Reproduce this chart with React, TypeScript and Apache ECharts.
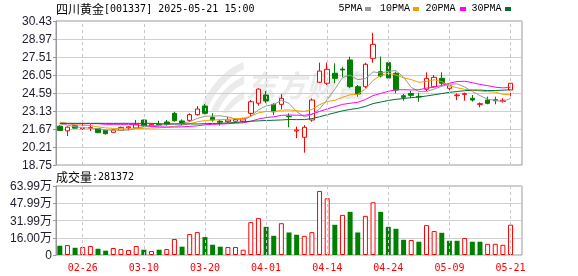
import React, { useEffect, useRef } from 'react';
import * as echarts from 'echarts';

const dates = ['02-21','02-24','02-25','02-26','02-27','02-28','03-03','03-04','03-05','03-06','03-07','03-10','03-11','03-12','03-13','03-14','03-17','03-18','03-19','03-20','03-21','03-24','03-25','03-26','03-27','03-28','03-31','04-01','04-02','04-03','04-07','04-08','04-09','04-10','04-11','04-14','04-15','04-16','04-17','04-18','04-21','04-22','04-23','04-24','04-25','04-28','04-29','04-30','05-06','05-07','05-08','05-09','05-12','05-13','05-14','05-15','05-16','05-19','05-20','05-21'];
const opens = [21.90,21.52,21.94,21.70,21.74,21.70,21.56,21.40,21.57,21.76,21.75,22.40,21.91,22.05,22.24,22.94,22.32,22.37,22.83,23.53,22.62,22.30,22.26,22.30,22.30,22.94,23.76,24.43,23.67,23.67,22.70,21.51,21.00,22.40,25.46,25.38,26.19,26.53,27.27,25.10,25.10,27.40,26.32,27.05,26.19,24.37,24.56,24.32,24.89,25.10,25.78,24.97,24.37,24.48,24.16,23.67,24.02,24.05,23.90,24.83];
const closes = [21.55,21.82,21.74,21.77,21.80,21.37,21.29,21.59,21.80,21.84,22.05,21.91,22.05,22.00,22.06,22.34,22.12,22.83,23.29,22.94,22.40,22.22,22.40,22.44,22.50,23.88,24.91,23.94,23.07,24.16,22.66,21.59,21.81,24.02,26.37,26.51,25.78,26.46,25.10,24.51,26.92,28.54,25.97,25.80,24.83,24.24,24.40,24.27,25.78,25.86,25.38,25.18,24.43,24.54,24.02,23.72,23.75,23.96,24.00,25.38];
const highs = [21.98,21.88,22.00,22.34,22.05,21.72,21.58,21.62,21.86,21.89,22.40,22.42,22.13,22.34,22.40,23.07,22.45,22.94,23.53,23.70,22.94,22.42,22.64,22.50,22.58,24.02,24.97,24.75,23.75,24.51,22.94,21.86,21.99,24.16,27.05,27.05,27.00,26.72,27.54,25.24,27.05,29.48,27.54,27.10,26.32,24.51,24.75,24.61,26.27,26.05,26.27,25.30,24.56,24.62,24.43,23.83,24.29,24.29,24.16,25.38];
const lows = [21.50,21.10,21.70,21.59,21.51,21.35,21.21,21.36,21.55,21.56,21.70,21.88,21.86,21.91,21.94,22.26,21.99,22.26,22.75,22.86,22.26,21.95,22.16,22.20,22.20,22.67,23.56,23.76,22.81,23.27,21.81,20.92,19.75,22.26,25.38,25.24,25.38,25.86,24.97,24.29,24.97,27.05,25.86,25.64,24.57,23.97,24.16,23.88,24.70,25.05,25.24,24.57,24.02,23.97,23.89,23.43,23.67,23.67,23.80,24.29];
// volume in 万 (10k shares)
const volumes = [8.6,9.2,6.7,7.4,8.3,5.8,4.0,6.5,5.5,4.6,8.3,4.9,3.7,4.9,5.5,14.8,7.7,19.4,21.2,16.6,9.5,7.7,7.4,7.4,4.9,30.5,34.2,26.1,17.8,29.5,20.9,18.8,17.8,21.2,59.4,52.6,28.0,37.2,40.0,20.9,36.3,48.9,40.0,26.1,24.3,14.1,13.9,12.3,27.7,22.2,20.6,13.2,13.2,15.7,12.3,12.3,10.4,10.4,9.5,28.14];
const ma5Head = [22.10,21.98,21.85,21.78];
const ma10Head = [22.24,22.12,22.00,21.97,21.95,21.84,21.76,21.72,21.70];
const ma20Head = [22.10,22.10,22.10,22.10,22.10,22.10,22.05,22.05,22.05,22.05,22.00,21.95,21.90,21.84,21.83,21.83,21.84,21.88,21.93];
const ma30Head = [22.13,22.13,22.13,22.13,22.13,22.13,22.13,22.13,22.13,22.13,22.13,22.13,22.13,22.10,22.08,22.08,22.08,22.08,22.08,22.10,22.12,22.13,22.16,22.20,22.25,22.30,22.33,22.36,22.38];
const priceTicks = ['18.75','20.21','21.67','23.13','24.59','26.05','27.51','28.97','30.43'];
const volumeTicks = ['0','16.00万','31.99万','47.99万','63.99万'];
const labelDates = ['02-26','03-10','03-20','04-01','04-14','04-24','05-09','05-21'];
const legendNames = ['5PMA','10PMA','20PMA','30PMA'];
const maColors = ['#999999','#f0a000','#ff00ff','#006e33'];
const titleName = '四川黄金';
const titleRest = '[001337] 2025-05-21 15:00';
const lastVolume = '281372';

function movingAverage(n: number, head: number[]) {
  return closes.map((_, i) => {
    if (i < n - 1) return head[i];
    let s = 0;
    for (let k = i - n + 1; k <= i; k++) s += closes[k];
    return +(s / n).toFixed(3);
  });
}

const logoD = 'M4 50 C10 32 26 12 46 4 L47 11 C30 19 17 35 11 50 Z M14 53 C20 38 32 25 47 18 L47 26 C35 31 26 42 21 53 Z M25 55 C30 46 38 38 47 33 L47 41 C40 44 35 49 31 55 Z';

export default function App() {
  const ref = useRef<HTMLDivElement>(null);
  useEffect(() => {
    if (!ref.current) return;
    try {
      echarts.graphic.registerShape('eastLogo', echarts.graphic.extendPath(logoD, {}));
    } catch (e) {}
    const chart = echarts.init(ref.current, undefined, { renderer: 'svg' });
    const cats = [...dates, ''];
    const isLabel = (_i: number, v: string) => labelDates.includes(v);
    const mas = [movingAverage(5, ma5Head), movingAverage(10, ma10Head), movingAverage(20, ma20Head), movingAverage(30, ma30Head)];
    const candleData = dates.map((_, i) => [opens[i], closes[i], lows[i], highs[i]]);
    const volData = volumes.map((v, i) => {
      const prev = i === 0 ? opens[0] : closes[i - 1];
      const up = closes[i] >= prev;
      return {
        value: v,
        itemStyle: up
          ? { color: '#ffffff', borderColor: '#ff0000', borderWidth: 1 }
          : { color: '#008000', borderColor: '#008000', borderWidth: 0 },
      };
    });
    const yLabelStyle = { color: '#1c1c2c', fontSize: 12, fontFamily: "'Liberation Sans', 'Noto Sans CJK SC', sans-serif", margin: 4 };
    const monoCJK = { fontFamily: "'Noto Sans CJK SC', sans-serif", fontSize: 12, fill: '#000' };
    const mono = { fontFamily: "'DejaVu Sans Mono', monospace", fontSize: 10, fill: '#000' };

    const legendX = [338.5, 380, 425.5, 471.5];
    const legendSq = [365, 413, 460, 505];
    const legendEls: any[] = [];
    legendNames.forEach((n, k) => {
      legendEls.push({ type: 'text', x: legendX[k], y: 8.5, style: { text: n, fontFamily: "'Liberation Mono', monospace", fontSize: 10, fill: '#000', verticalAlign: 'middle' } });
      legendEls.push({ type: 'rect', shape: { x: legendSq[k], y: 7, width: 6, height: 4 }, style: { fill: maColors[k] } });
    });

    const dashMarks = {
      silent: true,
      symbol: ['none', 'none'],
      label: { show: false },
      lineStyle: { color: '#c8c8c8', type: [3, 3], width: 1 },
      data: labelDates.map((d) => ({ xAxis: d })),
    };

    chart.setOption({
      animation: false,
      grid: [
        { left: 56, top: 21, width: 466, height: 144, show: true, borderColor: '#999', borderWidth: 1 },
        { left: 56, top: 186, width: 466, height: 69, show: true, borderColor: '#999', borderWidth: 1 },
      ],
      xAxis: [
        {
          type: 'category', gridIndex: 0, data: cats, boundaryGap: true,
          axisLine: { show: false }, axisTick: { show: false }, axisLabel: { show: false },
          splitLine: { show: false },
        },
        {
          type: 'category', gridIndex: 1, data: cats, boundaryGap: true,
          axisLine: { show: false }, axisTick: { show: false },
          axisLabel: { show: true, interval: isLabel, color: '#ff0000', fontFamily: "'DejaVu Sans Mono', monospace", fontSize: 10, margin: 7 },
          splitLine: { show: false },
        },
      ],
      yAxis: [
        { type: 'value', gridIndex: 0, min: 18.75, max: 30.43, show: false },
        {
          type: 'value', gridIndex: 0, min: 0, max: 8, interval: 1, position: 'left',
          axisLine: { show: true, lineStyle: { color: '#999' } },
          axisTick: { show: true, length: 3, lineStyle: { color: '#999' } },
          axisLabel: { ...yLabelStyle, formatter: (v: number) => priceTicks[Math.round(v)] },
          splitLine: { show: true, lineStyle: { color: '#cfcfcf' } },
        },
        { type: 'value', gridIndex: 1, min: 0, max: 63.99, show: false },
        {
          type: 'value', gridIndex: 1, min: 0, max: 4, interval: 1, position: 'left',
          axisLine: { show: true, lineStyle: { color: '#999' } },
          axisTick: { show: true, length: 3, lineStyle: { color: '#999' } },
          axisLabel: { ...yLabelStyle, formatter: (v: number) => volumeTicks[Math.round(v)] },
          splitLine: { show: true, lineStyle: { color: '#cfcfcf' } },
        },
      ],
      graphic: [
        { type: 'eastLogo', x: 197, y: 58, scaleX: 1, scaleY: 1, z: 0, style: { fill: '#ebebeb' } },
        { type: 'text', x: 246, y: 84, z: 0, style: { text: '东方财富', fontSize: 30, fontWeight: 'bold', fontStyle: 'italic', fontFamily: "'Noto Sans CJK SC', sans-serif", fill: '#ebebeb', verticalAlign: 'middle' } },
        { type: 'text', x: 56, y: 8.5, style: { text: `{a|${titleName}}{b|${titleRest}}`, verticalAlign: 'middle', rich: { a: monoCJK, b: mono } } },
        { type: 'text', x: 56, y: 176, style: { text: `{a|成交量}{b|:${lastVolume}}`, verticalAlign: 'middle', rich: { a: monoCJK, b: mono } } },
        ...legendEls,
      ],
      series: [
        { type: 'line', xAxisIndex: 0, yAxisIndex: 0, data: [], z: 1, markLine: dashMarks },
        { type: 'line', xAxisIndex: 1, yAxisIndex: 2, data: [], z: 1, markLine: dashMarks },
        {
          type: 'candlestick', xAxisIndex: 0, yAxisIndex: 0, data: candleData, barWidth: 5, z: 3,
          itemStyle: { color: '#ffffff', color0: '#008000', borderColor: '#ff0000', borderColor0: '#008000', borderWidth: 1 },
        },
        ...mas.map((d, k) => ({
          type: 'line', xAxisIndex: 0, yAxisIndex: 0, data: d, symbol: 'none', z: 4,
          lineStyle: { color: maColors[k], width: 1 }, itemStyle: { color: maColors[k] },
        })),
        { type: 'bar', xAxisIndex: 1, yAxisIndex: 2, data: volData, barWidth: 5, z: 3 },
      ],
    });
    return () => chart.dispose();
  }, []);
  return <div ref={ref} style={{ position: 'fixed', left: 0, top: 0, width: 578, height: 276 }} />;
}
